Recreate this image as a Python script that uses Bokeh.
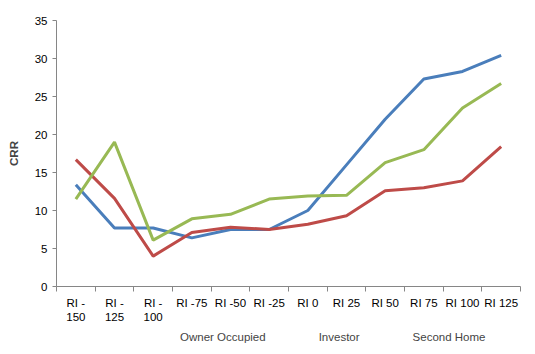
from bokeh.plotting import figure
from bokeh.layouts import column
from bokeh.models import Range1d, FixedTicker, Legend, LegendItem
from bokeh.embed import file_html
from bokeh.resources import INLINE

categories = ["RI -\n150", "RI -\n125", "RI -\n100", "RI -75", "RI -50", "RI -25",
              "RI 0", "RI 25", "RI 50", "RI 75", "RI 100", "RI 125"]
owner_occupied = [13.4, 7.7, 7.7, 6.4, 7.5, 7.5, 10.0, 16.0, 22.0, 27.3, 28.3, 30.4]
investor = [16.7, 11.6, 4.0, 7.1, 7.8, 7.5, 8.2, 9.3, 12.6, 13.0, 13.9, 18.4]
second_home = [11.5, 19.0, 6.1, 8.9, 9.5, 11.5, 11.9, 12.0, 16.3, 18.0, 23.5, 26.7]
series_names = ["Owner Occupied", "Investor", "Second Home"]
colors = ["#4A7EBB", "#BE4B48", "#98B954"]
y_ticks = [0, 5, 10, 15, 20, 25, 30, 35]

xs = [i + 0.5 for i in range(len(categories))]
font = "Liberation Sans"

p = figure(width=535, height=325, output_backend="svg", toolbar_location=None,
           x_range=Range1d(0, len(categories)), y_range=Range1d(0, 35),
           min_border_left=56, min_border_right=15, min_border_top=20, min_border_bottom=0)
p.outline_line_color = None
p.xgrid.grid_line_color = None
p.ygrid.grid_line_color = None

ax = p.xaxis[0]
ax.ticker = FixedTicker(ticks=xs, minor_ticks=list(range(len(categories) + 1)))
ax.major_label_overrides = {x: c for x, c in zip(xs, categories)}
ax.major_tick_out = 0
ax.major_tick_in = 0
ax.minor_tick_out = 5
ax.minor_tick_in = 0
ax.minor_tick_line_color = "#868686"
ax.axis_line_color = "#868686"
ax.major_label_text_font = font
ax.major_label_text_font_size = "11.5px"
ax.major_label_text_color = "black"
ax.major_label_standoff = 5

ay = p.yaxis[0]
ay.ticker = FixedTicker(ticks=y_ticks)
ay.minor_tick_line_color = None
ay.major_tick_out = 4
ay.major_tick_in = 0
ay.major_tick_line_color = "#868686"
ay.axis_line_color = "#868686"
ay.major_label_text_font = font
ay.major_label_text_font_size = "11.5px"
ay.major_label_text_color = "black"
ay.axis_label = "CRR"
ay.axis_label_text_font = font
ay.axis_label_text_font_style = "bold"
ay.axis_label_text_font_size = "11.5px"
ay.axis_label_standoff = 12

for vals, c in zip([owner_occupied, investor, second_home], colors):
    p.line(xs, vals, line_color=c, line_width=3)

# legend strip below the chart
p2 = figure(width=535, height=29, output_backend="svg", toolbar_location=None,
            x_range=Range1d(0, 1), y_range=Range1d(0, 1),
            x_axis_type=None, y_axis_type=None,
            min_border_left=0, min_border_right=0, min_border_top=0, min_border_bottom=0)
p2.outline_line_color = None
p2.xgrid.grid_line_color = None
p2.ygrid.grid_line_color = None
items = []
for name, c in zip(series_names, colors):
    r = p2.line([], [], line_color=c, line_width=3)
    items.append(LegendItem(label=name, renderers=[r]))
legend = Legend(items=items, orientation="horizontal", location=(91, 10),
                border_line_color=None, background_fill_alpha=0,
                label_text_font=font, label_text_font_size="11.5px",
                glyph_width=31, glyph_height=14, label_height=14,
                spacing=20, label_standoff=2, padding=0, margin=0)
p2.add_layout(legend, "center")

layout = column(p, p2, spacing=0)
open("out.html", "w").write(file_html(layout, INLINE))
